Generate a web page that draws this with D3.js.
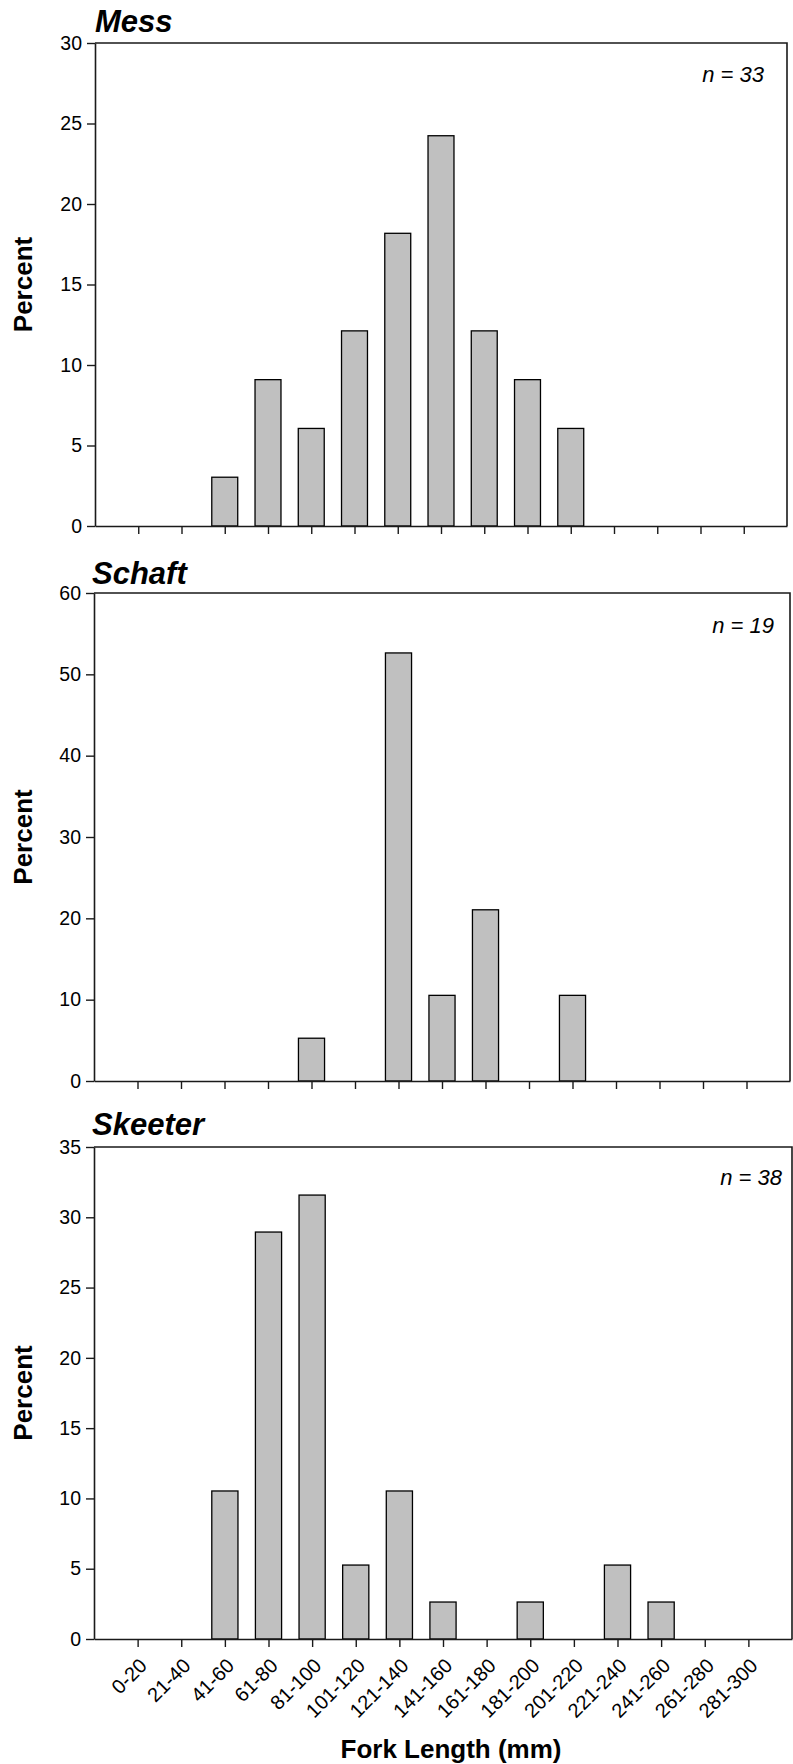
<!DOCTYPE html>
<html>
<head>
<meta charset="utf-8">
<script src="https://cdn.jsdelivr.net/npm/d3@7"></script>
<style>
  html, body { margin: 0; padding: 0; background: #fff; }
  svg { display: block; font-family: "Liberation Sans", Arial, Helvetica, sans-serif; }
</style>
</head>
<body>
<svg id="chart" width="793" height="1764"></svg>
<script>
// Fork length classes (mm)
const categories = ["0-20", "21-40", "41-60", "61-80", "81-100", "101-120", "121-140",
  "141-160", "161-180", "181-200", "201-220", "221-240", "241-260", "261-280", "281-300"];

// Percent of fish in each length class, per site
const messValues    = [0, 0, 3.03, 9.09, 6.06, 12.12, 18.18, 24.24, 12.12, 9.09, 6.06, 0, 0, 0, 0];
const schaftValues  = [0, 0, 0, 0, 5.26, 0, 52.63, 10.53, 21.05, 0, 10.53, 0, 0, 0, 0];
const skeeterValues = [0, 0, 10.53, 28.95, 31.58, 5.26, 10.53, 2.63, 0, 2.63, 0, 5.26, 2.63, 0, 0];

const siteNames   = ["Mess", "Schaft", "Skeeter"];
const sampleSizes = [33, 19, 38];
const yMaxima     = [30, 60, 35];
const yTickSteps  = [5, 10, 5];

const seriesList = [messValues, schaftValues, skeeterValues];

// Panel frames
const panels = [
  { left: 95, right: 787, top: 43,   bottom: 526,  titleX: 95, titleY: 32,   nRight: 764, nY: 82 },
  { left: 94, right: 790, top: 593,  bottom: 1081, titleX: 92, titleY: 584,  nRight: 774, nY: 633 },
  { left: 94, right: 792, top: 1147, bottom: 1639, titleX: 92, titleY: 1135, nRight: 782, nY: 1185 }
];

const svg = d3.select("#chart");
const axisColor = "#1a1a1a";
const fontStack = "'Liberation Sans', Arial, sans-serif";

panels.forEach((p, i) => {
  const values = seriesList[i];
  const g = svg.append("g");

  const x = d3.scalePoint().domain(categories).range([p.left, p.right]).padding(1);
  const y = d3.scaleLinear().domain([0, yMaxima[i]]).range([p.bottom, p.top]);
  const barW = x.step() * 0.6;

  // bars
  g.append("g").selectAll("rect")
    .data(values.map((v, k) => ({ cat: categories[k], v })).filter(d => d.v > 0))
    .join("rect")
    .attr("x", d => x(d.cat) - barW / 2)
    .attr("width", barW)
    .attr("y", d => y(d.v))
    .attr("height", d => y(0) - y(d.v))
    .attr("fill", "#c0c0c0")
    .attr("stroke", "#000")
    .attr("stroke-width", 1.3);

  // frame (top and right edges)
  g.append("path")
    .attr("d", `M${p.left},${p.top}H${p.right}V${p.bottom}`)
    .attr("fill", "none")
    .attr("stroke", axisColor)
    .attr("stroke-width", 1.6);

  // y axis
  const yAxis = g.append("g")
    .attr("transform", `translate(${p.left},0)`)
    .call(d3.axisLeft(y)
      .tickValues(d3.range(0, yMaxima[i] + 0.001, yTickSteps[i]))
      .tickSize(8).tickPadding(5).tickSizeOuter(0));
  yAxis.select(".domain").attr("stroke", axisColor).attr("stroke-width", 1.6);
  yAxis.selectAll(".tick line").attr("stroke", axisColor).attr("stroke-width", 1.4);
  yAxis.selectAll("text")
    .attr("font-size", 19.5)
    .attr("fill", "#000")
    .attr("font-family", fontStack);

  // x axis
  const xAxis = g.append("g")
    .attr("transform", `translate(0,${p.bottom})`)
    .call(d3.axisBottom(x).tickSize(8).tickSizeOuter(0));
  xAxis.select(".domain").attr("stroke", axisColor).attr("stroke-width", 1.6);
  xAxis.selectAll(".tick line").attr("stroke", axisColor).attr("stroke-width", 1.4);
  if (i === panels.length - 1) {
    xAxis.selectAll("text")
      .attr("font-size", 20)
      .attr("fill", "#000")
      .attr("font-family", fontStack)
      .attr("x", 0).attr("y", 0).attr("dy", 0)
      .attr("text-anchor", "end")
      .attr("transform", "translate(10,28) rotate(-45)");
  } else {
    xAxis.selectAll("text").remove();
  }

  // panel title
  g.append("text")
    .attr("x", p.titleX).attr("y", p.titleY)
    .attr("font-size", 31)
    .attr("font-weight", "bold")
    .attr("font-style", "italic")
    .text(siteNames[i]);

  // sample size
  g.append("text")
    .attr("x", p.nRight).attr("y", p.nY)
    .attr("text-anchor", "end")
    .attr("font-size", 22)
    .attr("font-style", "italic")
    .text(`n = ${sampleSizes[i]}`);

  // y axis title
  g.append("text")
    .attr("transform", `translate(32,${(p.top + p.bottom) / 2}) rotate(-90)`)
    .attr("text-anchor", "middle")
    .attr("font-size", 26)
    .attr("font-weight", "bold")
    .text("Percent");
});

// x axis title
svg.append("text")
  .attr("x", 451).attr("y", 1758)
  .attr("text-anchor", "middle")
  .attr("font-size", 26)
  .attr("font-weight", "bold")
  .text("Fork Length (mm)");
</script>
</body>
</html>
